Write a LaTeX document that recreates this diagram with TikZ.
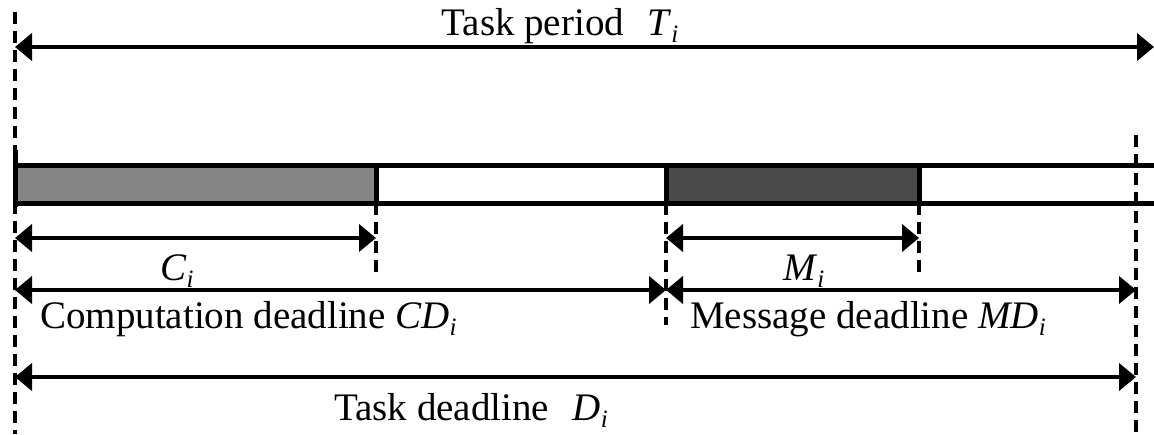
\documentclass[tikz,border=0pt]{standalone}
\usepackage{fontspec}
\setmainfont{Liberation Serif}
\usepackage{xcolor}
\usetikzlibrary{arrows.meta,positioning,calc}
\definecolor{cpugray}{HTML}{868686}
\definecolor{msggray}{HTML}{4A4A4A}
\newcommand{\tvar}[2]{\textit{#1}\raisebox{-7pt}{\fontsize{25}{25}\selectfont\textit{#2}}}

\begin{document}
\begin{tikzpicture}[x=1pt,y=-1pt,
  span/.style={{Triangle[length=17pt,width=27pt]}-{Triangle[length=17pt,width=27pt]},line width=4pt},
  guide/.style={line width=3.5pt,dash pattern=on 12pt off 7pt},
  edge/.style={line width=5pt},
  job/.style={draw,line width=5pt,minimum height=38pt,inner sep=0pt,outer sep=0pt,anchor=north west},
  lbl/.style={font=\fontsize{39}{44}\selectfont,inner sep=0pt}]
\useasboundingbox (0,0) rectangle (1154,434);
% time marks on the upper edge of the bar
\coordinate (t0) at (15,165);
\coordinate (tc) at (376,165);
\coordinate (tm) at (666,165);
\coordinate (te) at (919,165);
\coordinate (td) at (1136,165);
\coordinate (tr) at (1154,165);
% heights
\coordinate (gtop) at (0,12);
\coordinate (gtd) at (0,135);
\coordinate (gshort) at (0,273);
\coordinate (gmid) at (0,325);
\coordinate (gbot) at (0,434);
\coordinate (tick1) at (0,150);
\coordinate (tick2) at (0,207);
\coordinate (rP) at (0,47);
\coordinate (rC) at (0,238);
\coordinate (rCD) at (0,290);
\coordinate (rD) at (0,377);
% the bar
\node[job,fill=cpugray,minimum width=361pt] (cpu) at (t0) {};
\node[job,fill=msggray,minimum width=253pt] (msg) at (tm) {};
\draw[edge] (t0) -- (tr);
\draw[edge] (cpu.south west) -- (cpu.south west -| tr);
\draw[edge] (t0 |- tick1) -- (t0 |- tick2);
% guides
\draw[guide] (t0 |- gtop) -- (t0 |- gbot);
\draw[guide] (td |- gtd) -- (td |- gbot);
\draw[guide] (cpu.south east) -- (tc |- gshort);
\draw[guide] (msg.south west) -- (tm |- gmid);
\draw[guide] (msg.south east) -- (te |- gshort);
% spans
\draw[span] (t0 |- rP) -- (tr |- rP);
\draw[span] (t0 |- rC) -- (tc |- rC);
\draw[span] (tm |- rC) -- (te |- rC);
\draw[span] (t0 |- rCD) -- (tm |- rCD);
\draw[span] (tm |- rCD) -- (td |- rCD);
\draw[span] (t0 |- rD) -- (td |- rD);
% labels
\node[lbl,anchor=base] (lperiod) at (560,35) {Task period\hspace{0.6em}\tvar{T}{i}};
\node[lbl,anchor=base west] (lci) at (160,280) {\tvar{C}{i}};
\node[lbl,anchor=base west] (lmi) at (783,280) {\tvar{M}{i}};
\node[lbl,anchor=base west] (lcd) at (40,328) {Computation deadline \tvar{CD}{i}};
\node[lbl,anchor=base west] (lmd) at (690,328) {Message deadline \tvar{MD}{i}};
\node[lbl,anchor=base] (ldead) at (471,420) {Task deadline\hspace{0.6em}\tvar{D}{i}};
\end{tikzpicture}
\end{document}
